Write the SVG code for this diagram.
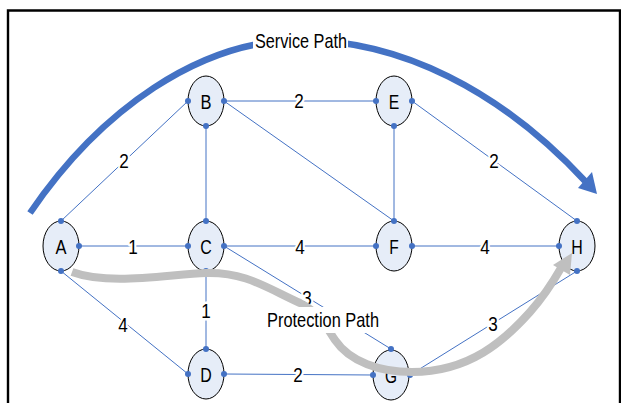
<svg xmlns="http://www.w3.org/2000/svg" width="621" height="403" viewBox="0 0 621 403">
<style>
.edge{stroke:#4472C4;stroke-width:1;fill:none}
.node ellipse{fill:#E6EDF8;stroke:#000;stroke-width:1}
.port{fill:#4472C4}
text{font-family:"Liberation Sans Narrow","Arial Narrow","Liberation Sans",Arial,sans-serif;fill:#000}
.nl{font-size:20.5px;text-anchor:middle}
.el{font-size:20.5px;text-anchor:middle;stroke:#fff;stroke-width:5;paint-order:stroke;stroke-linejoin:round}
.pl{font-size:21px}
.svc{stroke:#4472C4;stroke-width:6.5;fill:none}
.prot{stroke:#BFBFBF;stroke-width:8;fill:none}
</style>
<rect x="0" y="0" width="621" height="403" fill="#fff"/>
<path d="M8,420 V10.5 H620 V420" fill="none" stroke="#000" stroke-width="2.4"/>

<g id="connectors">
<line class="edge" x1="61" y1="221" x2="188" y2="101"/>
<line class="edge" x1="224" y1="101" x2="376" y2="101"/>
<line class="edge" x1="224" y1="101" x2="394" y2="221"/>
<line class="edge" x1="206" y1="126" x2="206" y2="221"/>
<line class="edge" x1="394" y1="126" x2="394" y2="221"/>
<line class="edge" x1="412" y1="101" x2="577" y2="221"/>
<line class="edge" x1="79" y1="246" x2="188" y2="246"/>
<line class="edge" x1="224" y1="246" x2="376" y2="246"/>
<line class="edge" x1="412" y1="246" x2="559" y2="246"/>
<line class="edge" x1="224" y1="246" x2="391" y2="349"/>
<line class="edge" x1="206" y1="271" x2="206" y2="349"/>
<line class="edge" x1="61" y1="271" x2="188" y2="374"/>
<line class="edge" x1="224" y1="374" x2="373" y2="375"/>
<line class="edge" x1="410" y1="375" x2="577" y2="271"/>
<text class="el" x="124" y="167.5" textLength="9.5" lengthAdjust="spacingAndGlyphs">2</text>
<text class="el" x="299" y="107.5" textLength="9.5" lengthAdjust="spacingAndGlyphs">2</text>
<text class="el" x="494" y="167.5" textLength="9.5" lengthAdjust="spacingAndGlyphs">2</text>
<text class="el" x="133" y="253.5" textLength="9.5" lengthAdjust="spacingAndGlyphs">1</text>
<text class="el" x="300" y="253.5" textLength="9.5" lengthAdjust="spacingAndGlyphs">4</text>
<text class="el" x="485" y="253.5" textLength="9.5" lengthAdjust="spacingAndGlyphs">4</text>
<text class="el" x="307" y="304.5" textLength="9.5" lengthAdjust="spacingAndGlyphs">3</text>
<text class="el" x="206" y="317.5" textLength="9.5" lengthAdjust="spacingAndGlyphs">1</text>
<text class="el" x="123" y="331.5" textLength="9.5" lengthAdjust="spacingAndGlyphs">4</text>
<text class="el" x="298" y="381.5" textLength="9.5" lengthAdjust="spacingAndGlyphs">2</text>
<text class="el" x="493" y="330.5" textLength="9.5" lengthAdjust="spacingAndGlyphs">3</text>
</g>

<g id="A" class="node"><ellipse cx="61" cy="246" rx="18" ry="25"/><text class="nl" x="61" y="253.5" textLength="11" lengthAdjust="spacingAndGlyphs">A</text>
<circle class="port" cx="61" cy="221" r="3"/><circle class="port" cx="79" cy="246" r="3"/><circle class="port" cx="61" cy="271" r="3"/></g>
<g id="B" class="node"><ellipse cx="206" cy="101" rx="18" ry="25"/><text class="nl" x="206" y="108.5" textLength="11" lengthAdjust="spacingAndGlyphs">B</text>
<circle class="port" cx="188" cy="101" r="3"/><circle class="port" cx="224" cy="101" r="3"/><circle class="port" cx="206" cy="126" r="3"/></g>
<g id="C" class="node"><ellipse cx="206" cy="246" rx="18" ry="25"/><text class="nl" x="206" y="253.5" textLength="11.5" lengthAdjust="spacingAndGlyphs">C</text>
<circle class="port" cx="206" cy="221" r="3"/><circle class="port" cx="188" cy="246" r="3"/><circle class="port" cx="224" cy="246" r="3"/><circle class="port" cx="206" cy="271" r="3"/></g>
<g id="D" class="node"><ellipse cx="206" cy="374" rx="18" ry="25"/><text class="nl" x="206" y="381.5" textLength="11.5" lengthAdjust="spacingAndGlyphs">D</text>
<circle class="port" cx="206" cy="349" r="3"/><circle class="port" cx="188" cy="374" r="3"/><circle class="port" cx="224" cy="374" r="3"/></g>
<g id="E" class="node"><ellipse cx="394" cy="101" rx="18" ry="25"/><text class="nl" x="394" y="108.5" textLength="10.5" lengthAdjust="spacingAndGlyphs">E</text>
<circle class="port" cx="376" cy="101" r="3"/><circle class="port" cx="412" cy="101" r="3"/><circle class="port" cx="394" cy="126" r="3"/></g>
<g id="F" class="node"><ellipse cx="394" cy="246" rx="18" ry="25"/><text class="nl" x="394" y="253.5" textLength="9.5" lengthAdjust="spacingAndGlyphs">F</text>
<circle class="port" cx="394" cy="221" r="3"/><circle class="port" cx="376" cy="246" r="3"/><circle class="port" cx="412" cy="246" r="3"/></g>
<g id="G" class="node"><ellipse cx="391" cy="375" rx="18" ry="25"/><text class="nl" x="391" y="382.5" textLength="12" lengthAdjust="spacingAndGlyphs">G</text>
<circle class="port" cx="391" cy="349" r="3"/><circle class="port" cx="373" cy="375" r="3"/><circle class="port" cx="410" cy="375" r="3"/></g>
<g id="H" class="node"><ellipse cx="577" cy="246" rx="18" ry="25"/><text class="nl" x="577" y="253.5" textLength="11.5" lengthAdjust="spacingAndGlyphs">H</text>
<circle class="port" cx="577" cy="221" r="3"/><circle class="port" cx="559" cy="246" r="3"/><circle class="port" cx="577" cy="271" r="3"/></g>

<g id="service-path">
<path class="svc" d="M30,213 C100,110 200,40 300,40 C400,40 500,90 585,181"/>
<polygon points="597,194 578,188 592,172" fill="#4472C4"/>
<rect x="253" y="27" width="95" height="23" fill="#fff"/>
<text class="pl" x="255" y="47.5" textLength="92" lengthAdjust="spacingAndGlyphs">Service Path</text>
</g>

<g id="protection-path">
<path class="prot" d="M72,272 C110,286 170,274 206,273 C245,272 265,287 300,303 C320,313 325,325 335,340 C350,362 380,372 412,372 C470,372 505,340 530,312 C545,295 553,282 561,268"/>
<polygon points="572,253 570,275 553,265" fill="#BFBFBF"/>
<rect x="265" y="307" width="117" height="26" fill="#fff"/>
<text class="pl" x="267" y="326.5" textLength="112" lengthAdjust="spacingAndGlyphs">Protection Path</text>
</g>
</svg>
